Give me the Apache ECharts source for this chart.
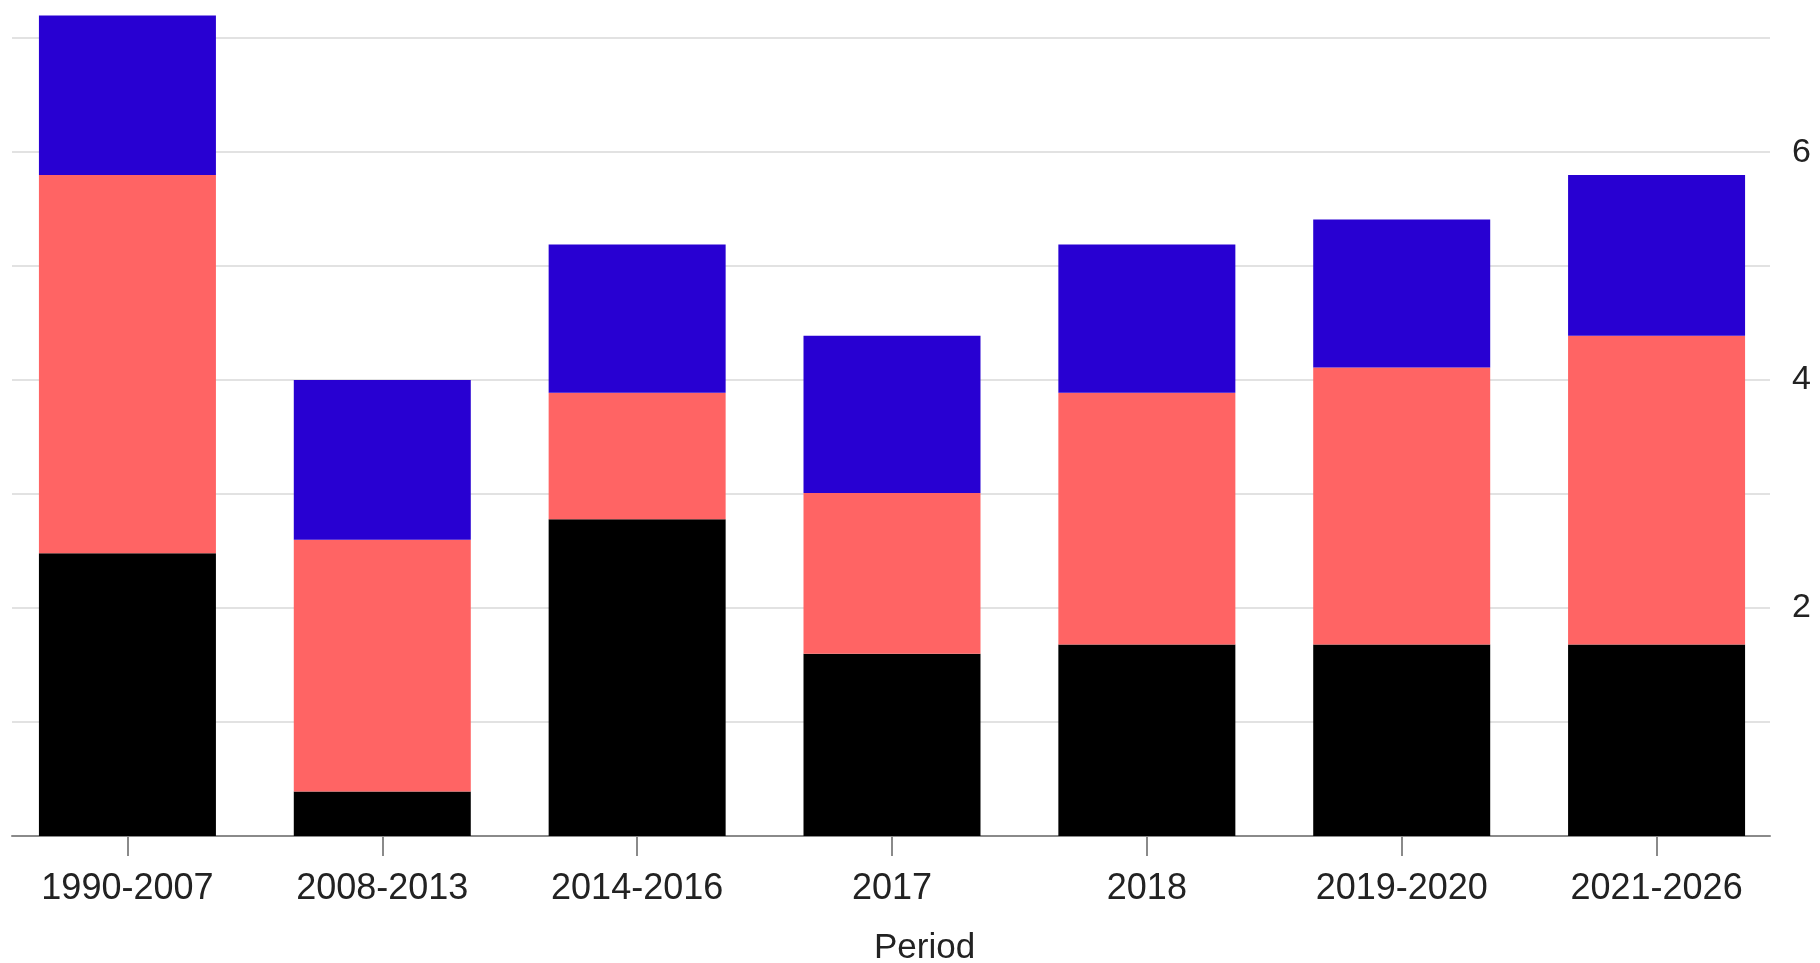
<!DOCTYPE html>
<html>
<head>
<meta charset="utf-8">
<script src="https://cdn.jsdelivr.net/npm/echarts@6/dist/echarts.min.js"></script>
<style>
html,body{margin:0;padding:0;background:#fff;}
#chart{width:1820px;height:963px;}
</style>
</head>
<body>
<div id="chart"></div>
<script>
const categories = ['1990-2007','2008-2013','2014-2016','2017','2018','2019-2020','2021-2026'];
const blackValues = [2.48, 0.39, 2.78, 1.60, 1.68, 1.68, 1.68];
const redValues   = [3.32, 2.21, 1.11, 1.41, 2.21, 2.43, 2.71];
const blueValues  = [1.40, 1.40, 1.30, 1.38, 1.30, 1.30, 1.41];
const axisTitle = 'Period';
const yMin = 0, yMax = 7.3, yStep = 1;

const chart = echarts.init(document.getElementById('chart'));
const font = '"Liberation Sans", Arial, sans-serif';
chart.setOption({
  animation: false,
  backgroundColor: '#ffffff',
  grid: [
    { left: 0, right: 36, top: 4, bottom: 127, containLabel: false },
    { left: 12, right: 50, top: 4, bottom: 127, containLabel: false }
  ],
  xAxis: [{
    type: 'category',
    gridIndex: 0,
    data: categories,
    axisLine: { show: false },
    axisTick: { show: true, alignWithLabel: true, length: 20, lineStyle: { color: '#8a8a8a', width: 2 } },
    axisLabel: { color: '#222', fontSize: 36, fontFamily: font, margin: 35 },
    splitLine: { show: false }
  }, {
    type: 'value',
    gridIndex: 1,
    min: 0, max: 1,
    axisLine: { show: true, onZero: false, lineStyle: { color: '#8a8a8a', width: 2 } },
    axisTick: { show: false },
    axisLabel: { show: false },
    splitLine: { show: false }
  }],
  yAxis: [{
    type: 'value',
    gridIndex: 0,
    min: yMin, max: yMax, interval: yStep,
    show: false,
    splitLine: { show: false }
  }, {
    type: 'value',
    gridIndex: 1,
    position: 'right',
    min: yMin, max: yMax, interval: yStep,
    axisLine: { show: false },
    axisTick: { show: false },
    axisLabel: {
      color: '#222', fontSize: 34, fontFamily: font, margin: 22,
      showMaxLabel: false,
      formatter: function (v) { return (v > 0 && v % 2 === 0) ? String(v) : ''; }
    },
    splitLine: { show: true, showMaxLine: false, lineStyle: { color: '#e2e2e2', width: 2 } }
  }],
  graphic: [{
    type: 'text',
    left: 874,
    top: 931,
    style: { text: axisTitle, fontSize: 35, fontFamily: font, fill: '#222' }
  }],
  series: [
    { name: 'Black', type: 'bar', stack: 'total', data: blackValues, barWidth: 177, itemStyle: { color: '#000000' } },
    { name: 'Red', type: 'bar', stack: 'total', data: redValues, barWidth: 177, itemStyle: { color: '#ff6464' } },
    { name: 'Blue', type: 'bar', stack: 'total', data: blueValues, barWidth: 177, itemStyle: { color: '#2800d2' } }
  ]
});
</script>
</body>
</html>
